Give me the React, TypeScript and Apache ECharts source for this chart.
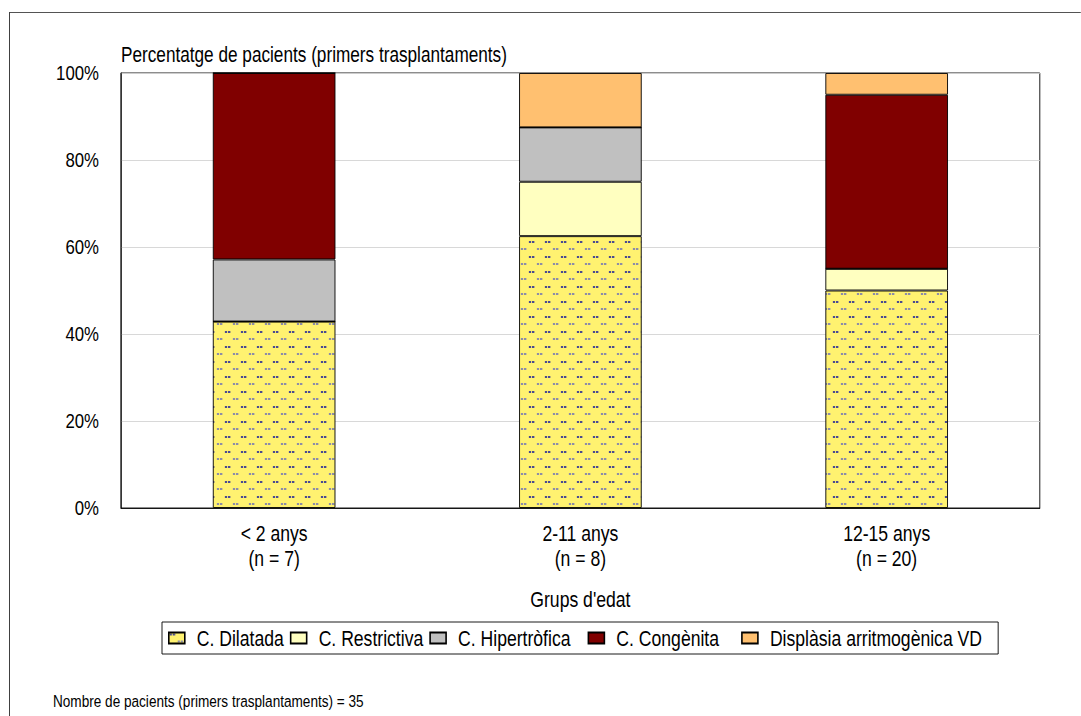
import React, { useEffect, useRef } from "react";
import * as echarts from "echarts";

const categories = ["< 2 anys\n(n = 7)", "2-11 anys\n(n = 8)", "12-15 anys\n(n = 20)"];
const seriesNames = ["C. Dilatada", "C. Restrictiva", "C. Hipertròfica", "C. Congènita", "Displàsia arritmogènica VD"];
const dilatada = [42.86, 62.5, 50];
const restrictiva = [0, 12.5, 5];
const hipertrofica = [14.28, 12.5, 0];
const congenita = [42.86, 0, 40];
const displasia = [0, 12.5, 5];
const seriesColors = ["#FFF270", "#FFFFC0", "#C0C0C0", "#800000", "#FFC070"];
const yMin = 0;
const yMax = 100;
const yInterval = 20;
const titleText = "Percentatge de pacients (primers trasplantaments)";
const xAxisName = "Grups d'edat";
const footerText = "Nombre de pacients (primers trasplantaments) = 35";

const FONT = "'Liberation Sans', Arial, sans-serif";
// The reference uses a horizontally condensed rendering: lay out in wider space, then squeeze.
const S = 0.8;
const W = 1081 / S;
const H = 716;
const sx = (v: number) => v / S;
// extra trailing space after some legend labels (the reference spaces them wider)
const legendExtraRight = [0, 0, 11, 16, 0];

function makePattern(base: string) {
  const c = document.createElement("canvas");
  c.width = 20;
  c.height = 15;
  const ctx = c.getContext("2d")!;
  ctx.fillStyle = base;
  ctx.fillRect(0, 0, 20, 15);
  ctx.fillStyle = "#4a4a90";
  ctx.fillRect(1, 1, 3, 2);
  ctx.fillRect(5, 1, 3, 2);
  ctx.fillStyle = "#8c8ca8";
  ctx.fillRect(11, 8, 3, 2);
  ctx.fillRect(15, 8, 3, 2);
  return c;
}

export default function App() {
  const ref = useRef<HTMLDivElement>(null);
  useEffect(() => {
    if (!ref.current) return;
    const chart = echarts.init(ref.current, null, { renderer: "svg" });
    const data = [dilatada, restrictiva, hipertrofica, congenita, displasia];
    const pattern = makePattern(seriesColors[0]);
    const series = seriesNames.map((name, i) => ({
      name,
      type: "bar",
      stack: "total",
      barWidth: "40%",
      data: data[i],
      itemStyle: {
        color: i === 0 ? { image: pattern, repeat: "repeat" } : seriesColors[i],
        borderColor: "#000",
        borderWidth: 1,
      },
      emphasis: { disabled: true },
    }));
    chart.setOption({
      animation: false,
      textStyle: { fontFamily: FONT },
      title: {
        text: titleText,
        left: sx(121),
        top: 43,
        padding: 0,
        textStyle: { fontFamily: FONT, fontSize: 21.5, fontWeight: "normal", color: "#000" },
      },
      grid: {
        left: sx(121),
        right: sx(41),
        top: 73,
        bottom: 208,
        show: true,
        borderColor: "#000",
        borderWidth: 1,
        backgroundColor: "transparent",
      },
      legend: {
        left: sx(162),
        top: 622,
        padding: [5, sx(16), 5, sx(6)],
        borderColor: "#000",
        borderWidth: 1,
        itemWidth: sx(16),
        itemHeight: 11,
        itemGap: sx(6),
        icon: "rect",
        selectedMode: false,
        textStyle: { fontFamily: FONT, fontSize: 22, color: "#000", padding: [0, 0, 0, sx(8)] },
        data: seriesNames.map((name, i) => ({
          name,
          textStyle: {
            fontFamily: FONT,
            fontSize: 22,
            color: "#000",
            padding: [0, sx(legendExtraRight[i]), 0, sx(8)],
            backgroundColor: "rgba(255,255,255,0)",
          },
        })),
      },
      xAxis: {
        type: "category",
        data: categories,
        name: xAxisName,
        nameLocation: "middle",
        nameGap: 80,
        nameTextStyle: { fontFamily: FONT, fontSize: 22, color: "#000" },
        axisLine: { show: true, lineStyle: { color: "#000" } },
        axisTick: { show: false },
        axisLabel: { fontFamily: FONT, fontSize: 22, color: "#000", margin: 13, lineHeight: 25 },
      },
      yAxis: {
        type: "value",
        min: yMin,
        max: yMax,
        interval: yInterval,
        axisLine: { show: true, lineStyle: { color: "#000" } },
        axisTick: { show: false },
        axisLabel: { formatter: "{value}%", fontFamily: FONT, fontSize: 21, color: "#000", margin: sx(22) },
        splitLine: { show: true, lineStyle: { color: "#d4d4d4", width: 1 } },
      },
      graphic: [
        {
          type: "line",
          shape: { x1: sx(9.5), y1: 12.5, x2: W + 10, y2: 12.5 },
          style: { stroke: "#404040", lineWidth: 1 },
          silent: true,
        },
        {
          type: "line",
          shape: { x1: sx(9.5), y1: 12, x2: sx(9.5), y2: H + 10 },
          style: { stroke: "#404040", lineWidth: 1 / S },
          silent: true,
        },
        {
          type: "text",
          x: sx(53),
          y: 701,
          style: {
            text: footerText,
            fontFamily: FONT,
            fontSize: 17,
            fill: "#000",
            verticalAlign: "middle",
          },
        },
      ],
      series,
    });
    return () => chart.dispose();
  }, []);
  return (
    <div style={{ position: "fixed", left: 0, top: 0, width: 1081, height: H, overflow: "hidden", background: "#fff" }}>
      <div
        ref={ref}
        style={{ width: W, height: H, transform: `scaleX(${S})`, transformOrigin: "0 0" }}
      />
    </div>
  );
}
